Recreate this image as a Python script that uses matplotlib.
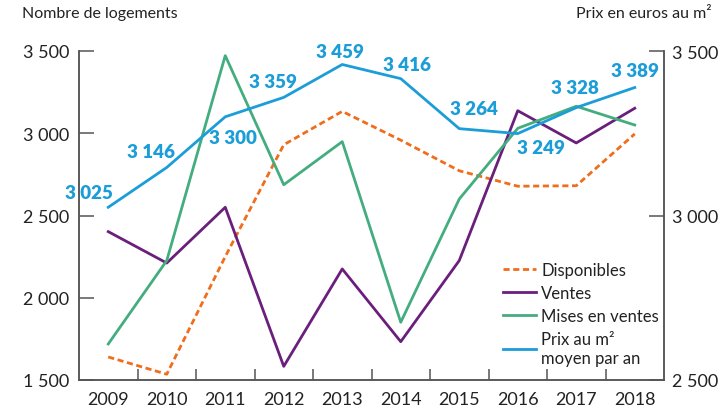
import numpy as np
import matplotlib
matplotlib.use("Agg")
import matplotlib.pyplot as plt
from matplotlib.ticker import FixedLocator, FuncFormatter

plt.rcParams['font.family'] = ['Lato', 'DejaVu Sans']

# data
annees = ['2009', '2010', '2011', '2012', '2013', '2014', '2015', '2016', '2017', '2018']
disponibles = [1640, 1535, 2250, 2930, 3133, 2958, 2772, 2678, 2681, 2996]
ventes = [2402, 2211, 2550, 1583, 2175, 1733, 2226, 3137, 2941, 3152]
mises = [1719, 2226, 3472, 2687, 2949, 1851, 2600, 3030, 3164, 3050]
prix = [3025, 3146, 3300, 3359, 3459, 3416, 3264, 3249, 3328, 3389]

# label offsets in pixels (dx, dy)
offsets = [(-19, 15), (-16, 16), (8, -21), (-11, 16), (-2, 13), (6, 14),
           (15, 20), (23, -14), (-1, 20), (0, 17)]

c_orange = '#f06d1c'
c_purple = '#6b1f7c'
c_green = '#44ad80'
c_blue = '#1b9dd8'
c_axis = '#555555'
c_text = '#222222'

def fmt(v, pos=None):
    return '{:,}'.format(int(v)).replace(',', ' ')

fig = plt.figure(figsize=(7.21, 4.10), dpi=100)
ax = fig.add_axes([79 / 721, 29 / 410, 585 / 721, 329 / 410])
ax2 = ax.twinx()

x = np.arange(len(annees))
l1, = ax.plot(x, disponibles, color=c_orange, lw=2, ls=(0, (2.2, 1.3)), label='Disponibles')
l2, = ax.plot(x, ventes, color=c_purple, lw=2, label='Ventes')
l3, = ax.plot(x, mises, color=c_green, lw=2, label='Mises en ventes')
l4, = ax2.plot(x, prix, color=c_blue, lw=2, label='Prix au m²\nmoyen par an')

for xi, v, (dx, dy) in zip(x, prix, offsets):
    ax2.annotate(fmt(v), (xi, v), xytext=(dx, dy), textcoords='offset pixels',
                 ha='center', va='center', color=c_blue, fontsize=13.5,
                 fontweight='heavy')

ax.set_xlim(-0.5, len(annees) - 0.5)
ax.set_ylim(1500, 3500)
ax2.set_ylim(2500, 3500)
ax.set_yticks([1500, 2000, 2500, 3000, 3500])
ax2.set_yticks([2500, 3000, 3500])
ax.yaxis.set_major_formatter(FuncFormatter(fmt))
ax2.yaxis.set_major_formatter(FuncFormatter(fmt))

# ticks between years, labels at year centres
ax.xaxis.set_major_locator(FixedLocator(x[:-1] + 0.5))
ax.xaxis.set_major_formatter(FuncFormatter(lambda v, p: ''))
ax.xaxis.set_minor_locator(FixedLocator(x))
ax.set_xticklabels(annees, minor=True)
ax.tick_params(axis='x', which='major', direction='in', length=8, width=1.1, color=c_axis)
ax.tick_params(axis='x', which='minor', length=0, pad=8, labelsize=13, labelcolor=c_text)
ax.tick_params(axis='y', direction='in', length=11, width=1.1, color=c_axis,
               pad=7, labelsize=13, labelcolor=c_text)
ax2.tick_params(axis='y', direction='in', length=11, width=1.1, color=c_axis,
                pad=6, labelsize=13, labelcolor=c_text)

for a in (ax, ax2):
    a.spines['top'].set_visible(False)
    for s in ('left', 'right', 'bottom'):
        a.spines[s].set_color(c_axis)
        a.spines[s].set_linewidth(1.1)

fig.text(22 / 721, 1 - 14 / 410, 'Nombre de logements', ha='left', va='center',
         fontsize=11.5, color=c_text)
fig.text(712 / 721, 1 - 14 / 410, 'Prix en euros au m²', ha='right', va='center',
         fontsize=11.5, color=c_text)

leg = ax2.legend(handles=[l1, l2, l3, l4], loc='upper left',
                 bbox_to_anchor=(503 / 721, 1 - 263 / 410), bbox_transform=fig.transFigure,
                 frameon=False, fontsize=12, handlelength=2.0, handletextpad=0.3,
                 labelspacing=0.42, borderpad=0, borderaxespad=0)
for t in leg.get_texts():
    t.set_color(c_text)

fig.savefig('out.png', dpi=100)
